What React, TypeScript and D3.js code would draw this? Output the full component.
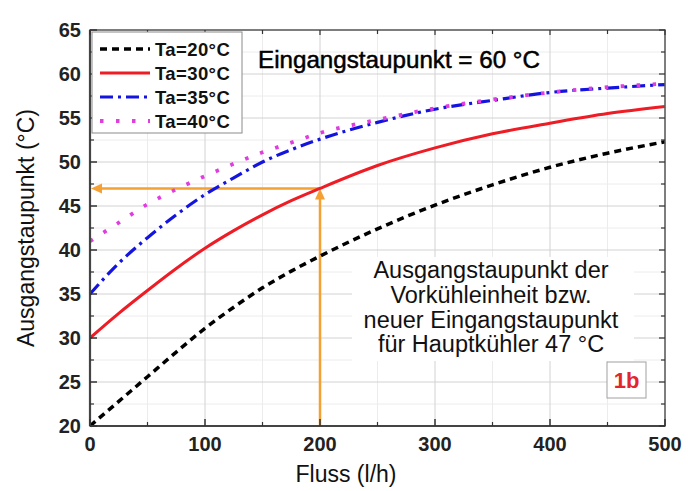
import React from "react";
import * as d3 from "d3";

const width = 699;
const height = 491;
const margin = { top: 30, right: 34, bottom: 65, left: 90 };

// Fluss (l/h)
const flow = [0, 25, 50, 75, 100, 125, 150, 175, 200, 250, 300, 350, 400, 450, 500];
// Ausgangstaupunkt (°C) je Umgebungstemperatur
const ta20 = [20.0, 22.8, 25.6, 28.4, 31.1, 33.5, 35.7, 37.6, 39.3, 42.4, 45.1, 47.4, 49.4, 51.0, 52.3];
const ta30 = [30.0, 32.8, 35.4, 37.9, 40.2, 42.2, 44.0, 45.6, 47.0, 49.6, 51.6, 53.2, 54.4, 55.5, 56.3];
const ta35 = [35.0, 38.5, 41.4, 44.0, 46.3, 48.2, 50.0, 51.4, 52.6, 54.5, 56.0, 57.0, 57.9, 58.4, 58.8];
const ta40 = [41.0, 43.1, 45.2, 46.9, 48.4, 49.8, 51.1, 52.2, 53.3, 54.8, 56.1, 57.1, 57.9, 58.5, 58.9];

const xTicks = [0, 100, 200, 300, 400, 500];
const yTicks = [20, 25, 30, 35, 40, 45, 50, 55, 60, 65];
const xMinor = [50, 150, 250, 350, 450];
const yMinor = [22.5, 27.5, 32.5, 37.5, 42.5, 47.5, 52.5, 57.5, 62.5];

const series = [
  { label: "Ta=20°C", values: ta20, color: "#000000", dash: "7 5", w: 3.5 },
  { label: "Ta=30°C", values: ta30, color: "#ee1c25", dash: null, w: 3 },
  { label: "Ta=35°C", values: ta35, color: "#1414e0", dash: "13 5 3 5", w: 3.2 },
  { label: "Ta=40°C", values: ta40, color: "#e03ce0", dash: "3.5 12.5", w: 3.8 },
];

const markFlow = 200;
const markTemp = 47;

const noteLines = ["Ausgangstaupunkt der", "Vorkühleinheit bzw.", "neuer Eingangstaupunkt", "für Hauptkühler 47 °C"];

const font = "Liberation Sans, Arial, Helvetica, sans-serif";
const orange = "#f5a033";

export default function App() {
  const x = d3
    .scaleLinear()
    .domain([0, 500])
    .range([margin.left, width - margin.right]);
  const y = d3
    .scaleLinear()
    .domain([20, 65])
    .range([height - margin.bottom, margin.top]);

  const line = d3
    .line<[number, number]>()
    .x((d) => x(d[0]))
    .y((d) => y(d[1]))
    .curve(d3.curveMonotoneX);

  const x0 = x(0);
  const x1 = x(500);
  const y0 = y(20);
  const y1 = y(65);

  const mx = x(markFlow);
  const my = y(markTemp);

  return (
    <div style={{ position: "absolute", left: 0, top: 0 }}>
      <svg width={width} height={height} style={{ display: "block", background: "#fff" }}>
        {/* grid */}
        {xMinor.map((t) => (
          <line key={"xm" + t} x1={x(t)} x2={x(t)} y1={y1} y2={y0} stroke="#ececec" strokeWidth={1} />
        ))}
        {yMinor.map((t) => (
          <line key={"ym" + t} x1={x0} x2={x1} y1={y(t)} y2={y(t)} stroke="#ececec" strokeWidth={1} />
        ))}
        {xTicks.map((t) => (
          <line key={"xg" + t} x1={x(t)} x2={x(t)} y1={y1} y2={y0} stroke="#d2d2d2" strokeWidth={1} />
        ))}
        {yTicks.map((t) => (
          <line key={"yg" + t} x1={x0} x2={x1} y1={y(t)} y2={y(t)} stroke="#d2d2d2" strokeWidth={1} />
        ))}

        {/* annotation background */}
        <rect x={352} y={257} width={282} height={104} fill="#fff" />

        {/* orange marker lines */}
        <line x1={mx} x2={mx} y1={y0} y2={my + 9} stroke={orange} strokeWidth={2.5} />
        <path d={`M${mx},${my} L${mx - 5},${my + 11} L${mx + 5},${my + 11} Z`} fill={orange} />
        <line x1={mx} x2={x0 + 9} y1={my} y2={my} stroke={orange} strokeWidth={2.5} />
        <path d={`M${x0 + 1},${my} L${x0 + 12},${my - 5} L${x0 + 12},${my + 5} Z`} fill={orange} />

        {/* curves */}
        {series.map((s) => (
          <path
            key={s.label}
            d={line(flow.map((f, i) => [f, s.values[i]] as [number, number])) || ""}
            fill="none"
            stroke={s.color}
            strokeWidth={s.w}
            strokeDasharray={s.dash || undefined}
          />
        ))}

        {/* frame */}
        <rect x={x0} y={y1} width={x1 - x0} height={y0 - y1} fill="none" stroke="#5a5a5a" strokeWidth={1.5} />
        <line x1={x0} x2={x1} y1={y0} y2={y0} stroke="#444" strokeWidth={2.2} />
        <line x1={x0} x2={x0} y1={y1} y2={y0} stroke="#444" strokeWidth={2.2} />

        {/* ticks, inward on all sides */}
        {xTicks.map((t) => (
          <g key={"xt" + t}>
            <line x1={x(t)} x2={x(t)} y1={y0} y2={y0 - 7} stroke="#333" strokeWidth={1.5} />
            <line x1={x(t)} x2={x(t)} y1={y1} y2={y1 + 5} stroke="#333" strokeWidth={1.2} />
          </g>
        ))}
        {xMinor.map((t) => (
          <g key={"xmt" + t}>
            <line x1={x(t)} x2={x(t)} y1={y0} y2={y0 - 4} stroke="#333" strokeWidth={1.2} />
            <line x1={x(t)} x2={x(t)} y1={y1} y2={y1 + 4} stroke="#333" strokeWidth={1.2} />
          </g>
        ))}
        {yTicks.map((t) => (
          <g key={"yt" + t}>
            <line x1={x0} x2={x0 + 7} y1={y(t)} y2={y(t)} stroke="#333" strokeWidth={1.5} />
            <line x1={x1} x2={x1 - 6} y1={y(t)} y2={y(t)} stroke="#333" strokeWidth={1.2} />
          </g>
        ))}
        {yMinor.map((t) => (
          <g key={"ymt" + t}>
            <line x1={x0} x2={x0 + 4} y1={y(t)} y2={y(t)} stroke="#333" strokeWidth={1.2} />
            <line x1={x1} x2={x1 - 4} y1={y(t)} y2={y(t)} stroke="#333" strokeWidth={1.2} />
          </g>
        ))}

        {/* tick labels */}
        {xTicks.map((t) => (
          <text
            key={"xl" + t}
            x={x(t)}
            y={y0 + 25}
            textAnchor="middle"
            fontFamily={font}
            fontWeight="bold"
            fontSize={20}
            fill="#222"
          >
            {t}
          </text>
        ))}
        {yTicks.map((t) => (
          <text
            key={"yl" + t}
            x={x0 - 9}
            y={y(t) + 7}
            textAnchor="end"
            fontFamily={font}
            fontWeight="bold"
            fontSize={20}
            fill="#222"
          >
            {t}
          </text>
        ))}

        {/* axis titles */}
        <text x={346} y={482} textAnchor="middle" fontFamily={font} fontSize={23} fill="#111">
          Fluss (l/h)
        </text>
        <text
          transform={`translate(34, ${(y0 + y1) / 2}) rotate(-90)`}
          textAnchor="middle"
          fontFamily={font}
          fontSize={23}
          fill="#111"
        >
          Ausgangstaupunkt (°C)
        </text>

        {/* legend */}
        <rect x={92} y={32} width={150} height={101} fill="#fff" stroke="#8a8a8a" strokeWidth={1} />
        {series.map((s, i) => {
          const ly = 49 + i * 24;
          return (
            <g key={"lg" + s.label}>
              <line x1={100} x2={150} y1={ly} y2={ly} stroke={s.color} strokeWidth={s.w} strokeDasharray={s.dash || undefined} />
              <text x={155} y={ly + 6.5} fontFamily={font} fontWeight="bold" fontSize={18.5} fill="#111" letterSpacing={0.4}>
                {s.label}
              </text>
            </g>
          );
        })}

        {/* annotations */}
        <text x={258} y={68} fontFamily={font} fontSize={24.2} fill="#000" stroke="#000" strokeWidth={0.5}>
          Eingangstaupunkt = 60 °C
        </text>
        {noteLines.map((s, i) => (
          <text key={s} x={491} y={278 + i * 24.8} textAnchor="middle" fontFamily={font} fontSize={23.5} fill="#111">
            {s}
          </text>
        ))}

        <rect x={607} y={362} width={39} height={36} fill="#fff" stroke="#a0a0a0" strokeWidth={1} />
        <text x={626.5} y={388} textAnchor="middle" fontFamily={font} fontWeight="bold" fontSize={22} fill="#e3262d">
          1b
        </text>
      </svg>
    </div>
  );
}
